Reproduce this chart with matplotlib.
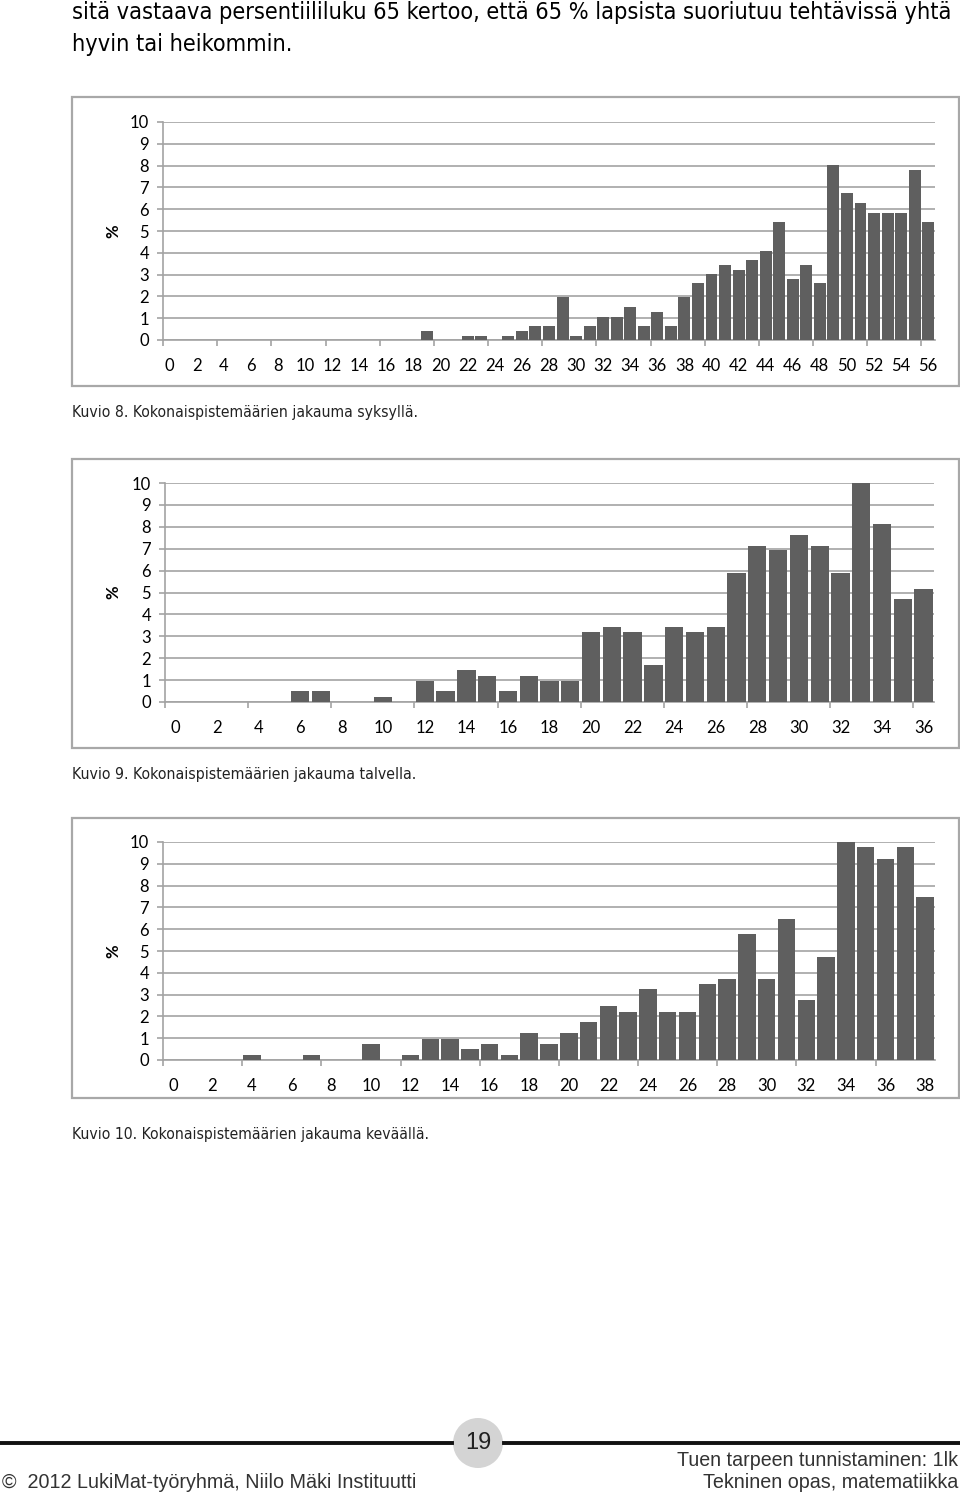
import numpy as np
import matplotlib
matplotlib.use("Agg")
import matplotlib.pyplot as plt
from matplotlib.patches import Rectangle, Circle
from matplotlib.lines import Line2D
from matplotlib import font_manager

# ---------------- data ----------------
autumn_scores = list(range(0, 57))
autumn_pct = [0, 0, 0, 0, 0, 0, 0, 0, 0, 0,
              0, 0, 0, 0, 0, 0, 0, 0, 0, 0.43,
              0, 0, 0.2, 0.2, 0, 0.2, 0.43, 0.66, 0.66, 1.96,
              0.2, 0.66, 1.05, 1.05, 1.51, 0.66, 1.3, 0.66, 1.96, 2.6,
              3.04, 3.46, 3.23, 3.69, 4.08, 5.4, 2.8, 3.46, 2.6, 8.03,
              6.73, 6.27, 5.84, 5.84, 5.84, 7.78, 5.4]

winter_scores = list(range(0, 37))
winter_pct = [0, 0, 0, 0, 0, 0, 0.49, 0.49, 0, 0,
              0.23, 0, 0.98, 0.49, 1.45, 1.21, 0.49, 1.21, 0.98, 0.98,
              3.19, 3.44, 3.19, 1.69, 3.44, 3.19, 3.44, 5.89, 7.13, 6.92,
              7.63, 7.13, 5.89, 10.0, 8.12, 4.69, 5.18]

spring_scores = list(range(0, 39))
spring_pct = [0, 0, 0, 0, 0.24, 0, 0, 0.24, 0, 0,
              0.73, 0, 0.24, 0.98, 0.98, 0.49, 0.73, 0.24, 1.25, 0.73,
              1.25, 1.73, 2.48, 2.22, 3.24, 2.22, 2.22, 3.49, 3.73, 5.76,
              3.73, 6.48, 2.75, 4.74, 10.0, 9.76, 9.22, 9.76, 7.49]

y_ticks = list(range(0, 11))

intro_lines = ["sitä vastaava persentiililuku 65 kertoo, että 65 % lapsista suoriutuu tehtävissä yhtä",
               "hyvin tai heikommin."]
captions = ["Kuvio 8. Kokonaispistemäärien jakauma syksyllä.",
            "Kuvio 9. Kokonaispistemäärien jakauma talvella.",
            "Kuvio 10. Kokonaispistemäärien jakauma keväällä."]
footer_left = "©  2012 LukiMat-työryhmä, Niilo Mäki Instituutti"
footer_right = ["Tuen tarpeen tunnistaminen: 1lk", "Tekninen opas, matematiikka"]
page_number = "19"

# ---------------- figure ----------------
W, H = 960, 1497
fig = plt.figure(figsize=(W / 100, H / 100), dpi=100)
fig.patch.set_facecolor("white")
renderer = fig.canvas.get_renderer()

BAR = "#5f5f5f"
GRID = "#a3a3a3"
BOX = "#a8a8a8"
TICKFONT = ["Lato", "DejaVu Sans"]
TEXTFONT = ["DejaVu Sans"]
COND = dict(family=TEXTFONT, stretch="condensed")


def fx(x):
    return x / W


def fy(y):
    return 1 - y / H


def fitted_text(x, y, s, width_px, ha="left", color="black", **kw):
    t = fig.text(fx(x), fy(y), s, ha=ha, va="center", fontsize=10, color=color, **kw)
    w = t.get_window_extent(renderer=renderer).width
    t.set_fontsize(10 * width_px / w)
    return t


def add_box(x0, y0, x1, y1):
    fig.patches.append(Rectangle((fx(x0), fy(y1)), fx(x1 - x0), (y1 - y0) / H,
                                 transform=fig.transFigure, fill=False,
                                 edgecolor=BOX, lw=1.6, zorder=0))


def chart(x0, y0, x1, y1, scores, pct, ylab_x):
    ax = fig.add_axes([fx(x0), fy(y1), fx(x1 - x0), (y1 - y0) / H])
    n = len(scores)
    ax.bar(scores, pct, width=0.88, color=BAR, zorder=3)
    ax.set_xlim(-0.5, n - 0.5)
    ax.set_ylim(0, 10)
    ax.set_yticks(y_ticks)
    ax.set_yticklabels([str(v) for v in y_ticks], family=TICKFONT, fontsize=12)
    ax.yaxis.grid(True, color=GRID, lw=1.2, zorder=0)
    ax.set_axisbelow(True)
    ax.set_xticks(scores[::2])
    ax.set_xticklabels([str(s) for s in scores[::2]], family=TICKFONT, fontsize=12)
    ax.set_xticks(np.arange(-0.5, n, 4), minor=True)
    ax.tick_params(axis="x", which="major", length=0, pad=13)
    ax.tick_params(axis="x", which="minor", length=4, width=1.2, color=GRID, direction="out")
    ax.tick_params(axis="y", length=4, width=1.2, color=GRID, pad=6)
    for s in ["top", "right"]:
        ax.spines[s].set_visible(False)
    for s in ["left", "bottom"]:
        ax.spines[s].set_color(GRID)
        ax.spines[s].set_linewidth(1.2)
    ax.set_facecolor("none")
    fig.text(fx(ylab_x), fy((y0 + y1) / 2), "%", rotation=90, ha="center", va="center",
             family=TICKFONT, fontsize=12, fontweight="bold")
    return ax


# intro text
t1 = fitted_text(72, 13, intro_lines[0], 883, **COND)
fig.text(fx(72), fy(45), intro_lines[1], ha="left", va="center",
         fontsize=t1.get_fontsize(), **COND)

# chart 1
add_box(72, 97, 959, 386)
chart(163, 122, 935, 340, autumn_scores, autumn_pct, 113)
fitted_text(72, 413, captions[0], 345, color="#222222", **COND)

# chart 2
add_box(72, 459, 959, 748)
chart(165, 483, 934, 702, winter_scores, winter_pct, 113)
fitted_text(72, 775, captions[1], 345, color="#222222", **COND)

# chart 3
add_box(72, 818, 959, 1098)
chart(163, 842, 935, 1060, spring_scores, spring_pct, 113)
fitted_text(72, 1134, captions[2], 358, color="#222222", **COND)

# footer
fig.add_artist(Line2D([fx(0), fx(452)], [fy(1443), fy(1443)], transform=fig.transFigure,
                      color="#111111", lw=2.8))
fig.add_artist(Line2D([fx(504), fx(960)], [fy(1443), fy(1443)], transform=fig.transFigure,
                      color="#111111", lw=2.8))
fig.add_artist(Circle((4.78, (H - 1443) / 100), 0.25, transform=fig.dpi_scale_trans,
                      facecolor="#d4d4d4", edgecolor="none"))
fig.text(fx(478), fy(1443), page_number, ha="center", va="center", fontsize=17,
         family=["Liberation Sans", "DejaVu Sans"], color="#222222")
FOOT = dict(family=["Liberation Sans Narrow", "Liberation Sans"])
fitted_text(2, 1483, footer_left, 415, color="#333333", **FOOT)
fitted_text(958, 1460, footer_right[0], 281, ha="right", color="#333333", **FOOT)
fitted_text(958, 1483, footer_right[1], 255, ha="right", color="#333333", **FOOT)

fig.savefig("out.png", dpi=100, facecolor="white")
